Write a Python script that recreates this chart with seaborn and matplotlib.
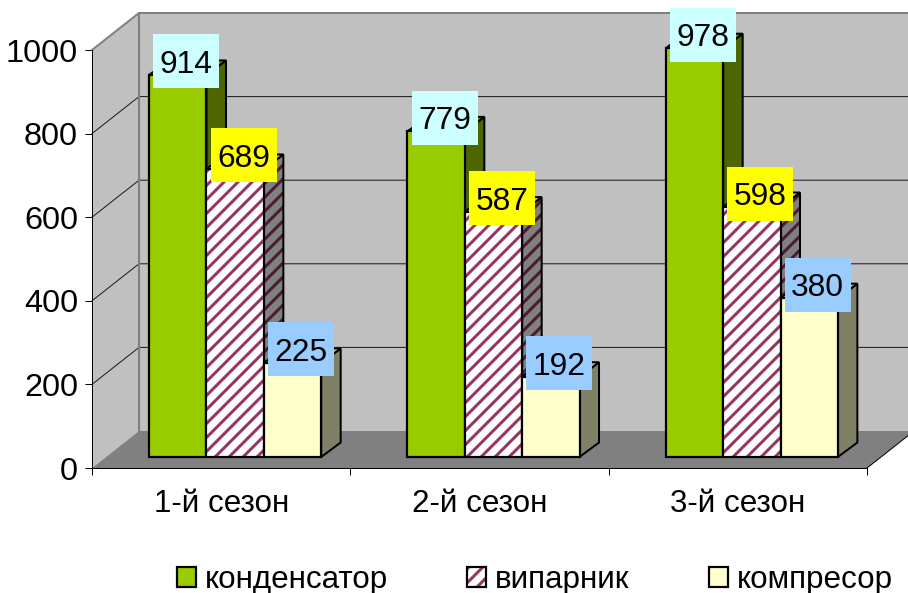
import matplotlib
matplotlib.use("Agg")
import matplotlib.pyplot as plt
from matplotlib.legend_handler import HandlerTuple
from matplotlib.patches import Patch, Polygon, Rectangle
import pandas as pd
import seaborn as sns

seasons = ["1-й сезон", "2-й сезон", "3-й сезон"]
parts = ["конденсатор", "випарник", "компресор"]
kondensator = [914, 779, 978]
vyparnyk = [689, 587, 598]
kompresor = [225, 192, 380]
y_ticks = [0, 200, 400, 600, 800, 1000]

front_colors = ["#99CC00", "#FFFFFF", "#FFFFCC"]
side_colors = ["#4D6600", "#808080", "#808066"]
top_colors = ["#739900", "#BFBFBF", "#BFBF99"]
label_colors = ["#CCFFFF", "#FFFF00", "#99CCFF"]
STRIPE = "#993366"
STRIPE_DIM = "#4D1A33"
WALL = "#C0C0C0"
FLOOR = "#808080"
HATCH = "////"

DPI = 168
W, H = 908, 593


def pt(px):
    return px * 72 / DPI


sns.set_theme(style="white")
plt.rcParams["font.family"] = ["Liberation Sans", "DejaVu Sans"]
plt.rcParams["hatch.linewidth"] = pt(3.0)

records = pd.DataFrame({
    "season": seasons * 3,
    "part": [p for p in parts for _ in seasons],
    "value": kondensator + vyparnyk + kompresor,
})

fig = plt.figure(figsize=((W + 0.01) / DPI, (H + 0.01) / DPI), dpi=DPI, facecolor="white")

# Main axes carry the scales, the walls and the floor of the 3D box.
left, right, base, top = 92, 867, 468, 50
ax = fig.add_axes([left / W, (H - base) / H, (right - left) / W, (base - top) / H])
ax.set_xlim(-0.5, 2.5)
ax.set_ylim(0, 1000)
x_per_px = 3 / (right - left)
y_per_px = 1000 / (base - top)

box_dx, box_dy = 47 * x_per_px, 37 * y_per_px
x0, x1 = -0.5, 2.5
ax.add_patch(Polygon([(x0 + box_dx, box_dy), (x1 + box_dx, box_dy),
                      (x1 + box_dx, 1000 + box_dy), (x0 + box_dx, 1000 + box_dy)],
                     fc=WALL, ec="none", clip_on=False, zorder=0))
ax.add_patch(Polygon([(x0, 0), (x0 + box_dx, box_dy),
                      (x0 + box_dx, 1000 + box_dy), (x0, 1000)],
                     fc=WALL, ec="none", clip_on=False, zorder=0))
ax.add_patch(Polygon([(x0, 0), (x1, 0), (x1 + box_dx, box_dy), (x0 + box_dx, box_dy)],
                     fc=FLOOR, ec="none", clip_on=False, zorder=0.5))

for tick in y_ticks[1:-1]:
    ax.plot([x0, x0 + box_dx, x1 + box_dx], [tick, tick + box_dy, tick + box_dy],
            color="#1A1A1A", lw=pt(1), clip_on=False, zorder=0.6)
ax.plot([x0 + box_dx, x0 + box_dx], [box_dy, 1000 + box_dy], color="#808080", lw=pt(2.2),
        clip_on=False, zorder=0.7)
ax.plot([x0, x0 + box_dx, x1 + box_dx], [1000, 1000 + box_dy, 1000 + box_dy],
        color="#808080", lw=pt(2), clip_on=False, zorder=0.7)
ax.plot([x1, x1 + box_dx], [0, box_dy], color="black", lw=pt(1), clip_on=False, zorder=0.7)

ax.set_xticks([-0.5, 0.5, 1.5, 2.5], minor=False)
ax.set_xticklabels([])
ax.set_xticks([0, 1, 2], minor=True)
ax.set_xticklabels(seasons, minor=True, fontsize=pt(31.4))
ax.set_yticks(y_ticks)
ax.set_yticklabels([str(t) for t in y_ticks], fontsize=pt(32.5))
ax.tick_params(axis="both", which="major", length=pt(7), width=pt(1), color="black",
               left=True, bottom=True, labelcolor="black")
ax.tick_params(axis="y", pad=pt(7))
ax.tick_params(axis="x", which="minor", length=0, pad=pt(21), labelcolor="black")
ax.set_xlabel("")
ax.set_ylabel("")
ax.set_facecolor("none")
for name in ("top", "right"):
    ax.spines[name].set_visible(False)
for name in ("left", "bottom"):
    ax.spines[name].set_color("black")
    ax.spines[name].set_linewidth(pt(1))
    ax.spines[name].set_zorder(3)

# The bars stand on a plane set back from the front edge of the floor.
shift_x, shift_y = 14, 11
bar_ax = fig.add_axes([(left + shift_x) / W, (H - base + shift_y) / H,
                       (right - left) / W, (base - top) / H])
sns.barplot(data=records, x="season", y="value", hue="part", hue_order=parts,
            palette=dict(zip(parts, front_colors)), saturation=1, width=172 / 258.3, gap=0,
            edgecolor="black", linewidth=pt(2.2), legend=False, errorbar=None, ax=bar_ax)
bar_ax.set_xlim(-0.5, 2.5)
bar_ax.set_ylim(0, 1000)
bar_ax.set_axis_off()

bar_dx, bar_dy = 19.5 * x_per_px, 14.5 * y_per_px
box_w, box_h = 66 * x_per_px, 54 * y_per_px
label_dx, label_dy = 8.5 * x_per_px, 13.5 * y_per_px

for i, container in enumerate(bar_ax.containers):
    hatched = i == 1
    for bar in container.patches:
        bx, by = bar.get_x(), bar.get_y()
        bw, bh = bar.get_width(), bar.get_height()
        bar.set_zorder(3 * i + 3)
        side = [(bx + bw, by), (bx + bw + bar_dx, by + bar_dy),
                (bx + bw + bar_dx, by + bh + bar_dy), (bx + bw, by + bh)]
        cap = [(bx, by + bh), (bx + bw, by + bh),
               (bx + bw + bar_dx, by + bh + bar_dy), (bx + bar_dx, by + bh + bar_dy)]
        if hatched:
            bar.set(edgecolor=STRIPE, hatch=HATCH, linewidth=0)
            bar_ax.add_patch(Rectangle((bx, by), bw, bh, fc="none", ec="black",
                                       lw=pt(2.2), zorder=3 * i + 3.5, clip_on=False))
            bar_ax.add_patch(Polygon(side, fc=side_colors[i], ec=STRIPE_DIM, hatch=HATCH, lw=0,
                                     zorder=3 * i + 1, clip_on=False))
            bar_ax.add_patch(Polygon(side, fc="none", ec="black", lw=pt(2),
                                     zorder=3 * i + 1.5, clip_on=False))
        else:
            bar_ax.add_patch(Polygon(side, fc=side_colors[i], ec="black", lw=pt(2),
                                     zorder=3 * i + 1.5, clip_on=False))
        bar_ax.add_patch(Polygon(cap, fc=top_colors[i], ec="black", lw=pt(2),
                                 zorder=3 * i + 1.5, clip_on=False))
        bar.set_clip_on(False)

        # Value tag sits over the upper back corner of its bar.
        cx = bx + bw / 2 + label_dx
        cy = by + bh + label_dy
        bar_ax.add_patch(Rectangle((cx - box_w / 2, cy - box_h / 2), box_w, box_h,
                                   fc=label_colors[i], ec="none", zorder=20, clip_on=False))
        bar_ax.text(cx, cy, f"{bh:.0f}", ha="center", va="center_baseline", fontsize=pt(31.8),
                    color="black", zorder=21, clip_on=False)

handles = []
for color, hatch in zip(front_colors, [None, HATCH, None]):
    if hatch:
        fill = Patch(fc=color, ec=STRIPE, hatch=hatch, lw=0)
    else:
        fill = Patch(fc=color, ec="none")
    handles.append((fill, Patch(fc="none", ec="black", lw=pt(2.2))))

fig.legend(handles, parts, handler_map={tuple: HandlerTuple(ndivide=1, pad=0)},
           ncol=3, frameon=False, fontsize=pt(31.4), loc="lower left",
           bbox_to_anchor=(177 / W, -0.003), borderpad=0, borderaxespad=0,
           handlelength=19 / 31.4, handleheight=19 / 31.4, handletextpad=9 / 31.4,
           columnspacing=79 / 31.4, labelcolor="black")

fig.savefig("out.png", dpi=DPI, facecolor="white")
